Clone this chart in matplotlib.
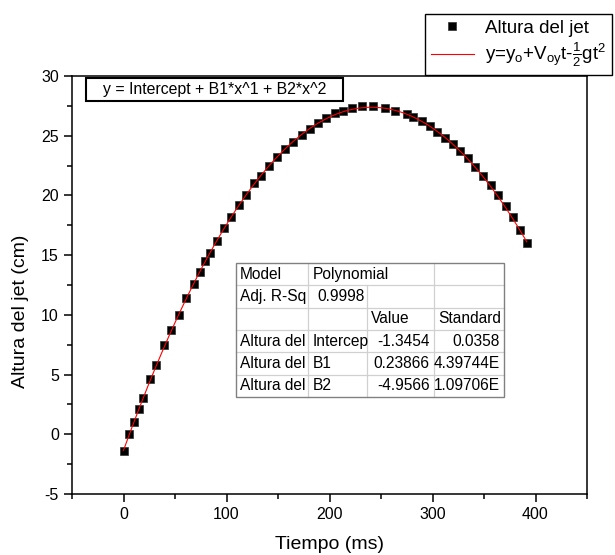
import matplotlib
matplotlib.use("Agg")
import matplotlib.pyplot as plt
from matplotlib.lines import Line2D
from matplotlib.patches import Rectangle
import numpy as np

plt.rcParams['font.family'] = ['Liberation Sans', 'DejaVu Sans']
plt.rcParams['mathtext.fontset'] = 'custom'
plt.rcParams['mathtext.rm'] = 'Liberation Sans'
plt.rcParams['mathtext.it'] = 'Liberation Sans'
plt.rcParams['mathtext.bf'] = 'Liberation Sans:bold'
plt.rcParams['axes.unicode_minus'] = False

# ---- data ----
tiempo_ms = [0, 5.5, 10, 15, 19, 26, 32, 39, 46, 53.5, 61, 68, 74, 79.5, 84, 90.5,
             98, 104.7, 112.4, 119, 127, 133.2, 141.3, 148.7, 156.8, 164.9, 173,
             181, 189, 196.3, 205.3, 213.4, 221.6, 231.3, 242, 253.9, 263.6, 275,
             281.4, 289.6, 297.6, 304.7, 312.1, 319.6, 326.7, 334.2, 341.3, 349.3,
             356.5, 363.9, 371.1, 377.9, 385, 391.5]
altura_cm = [-1.4, 0.0, 1.0, 2.1, 3.0, 4.6, 5.8, 7.5, 8.7, 10.0, 11.4, 12.6, 13.6,
             14.5, 15.2, 16.2, 17.3, 18.2, 19.2, 20.0, 21.0, 21.6, 22.5, 23.2, 23.9,
             24.5, 25.1, 25.6, 26.1, 26.5, 26.9, 27.1, 27.3, 27.45, 27.5, 27.3, 27.1,
             26.8, 26.6, 26.2, 25.8, 25.3, 24.8, 24.3, 23.7, 23.1, 22.4, 21.6, 20.9,
             20.0, 19.1, 18.2, 17.1, 16.0]
# fit coefficients (from the table)
intercept = -1.3454
b1 = 0.23866
b2 = -4.9566e-4

xticks = [0, 100, 200, 300, 400]
yticks = [-5, 0, 5, 10, 15, 20, 25, 30]

table_rows = [
    ["Model", "Polynomial", "", ""],
    ["Adj. R-Sq", "0.9998", "", ""],
    ["", "", "Value", "Standard"],
    ["Altura del", "Intercep", "-1.3454", "0.0358"],
    ["Altura del", "B1", "0.23866", "4.39744E"],
    ["Altura del", "B2", "-4.9566", "1.09706E"],
]

W, H = 615, 555
fig = plt.figure(figsize=(W / 100, H / 100), dpi=100)

def P(x, y):
    return (x / W, 1 - y / H)

ax = fig.add_axes([72 / W, 1 - 494 / H, (587 - 72) / W, (494 - 76) / H])

ax.plot(tiempo_ms, altura_cm, linestyle='none', marker='s', markersize=6.4,
        markerfacecolor='black', markeredgecolor='#303030', markeredgewidth=0.5,
        zorder=2, label='Altura del jet')
xf = np.linspace(min(tiempo_ms), max(tiempo_ms), 300)
yf = intercept + b1 * xf + b2 * xf ** 2
ax.plot(xf, yf, color='#ff0000', lw=0.8, zorder=3,
        label=r'y=y$_{o}$+V$_{oy}$t-$\frac{1}{2}$gt$^{2}$')

ax.set_xlim(-50, 450)
ax.set_ylim(-5, 30)
ax.set_xticks(xticks)
ax.set_yticks(yticks)
ax.set_xticks([-50, 50, 150, 250, 350, 450], minor=True)
ax.set_yticks([-2.5, 2.5, 7.5, 12.5, 17.5, 22.5, 27.5], minor=True)
ax.tick_params(which='both', direction='out', top=False, right=False,
               labelsize=11.5, width=1.1, color='black')
ax.tick_params(which='major', length=6)
ax.tick_params(which='minor', length=3.5)
for s in ax.spines.values():
    s.set_linewidth(1.1)
    s.set_color('black')

ax.set_xlabel('Tiempo (ms)', fontsize=14, labelpad=10)
fig.text(*P(21, 311), 'Altura del jet (cm)', fontsize=14, rotation=90,
         ha='center', va='center')

# legend
h, l = ax.get_legend_handles_labels()
leg = fig.legend(h, l, loc='upper right', bbox_to_anchor=P(612, 14),
                 borderaxespad=0, fancybox=False, edgecolor='black',
                 framealpha=1, fontsize=13.5, handlelength=2.3,
                 borderpad=0.3, labelspacing=0.25, handletextpad=0.6)
leg.get_frame().set_linewidth(1.0)

# equation box
x0, y0 = P(86, 101)
x1, y1 = P(343, 78)
fig.add_artist(Rectangle((x0, y0), x1 - x0, y1 - y0, transform=fig.transFigure,
                         facecolor='white', edgecolor='black', lw=1.5, zorder=5))
fig.text(*P(214.5, 89.5), 'y = Intercept + B1*x^1 + B2*x^2', fontsize=11.4,
         ha='center', va='center', zorder=6)

# statistics table
cols = [236, 308.3, 366.7, 434, 504]
top, bot = 263, 397
nrow = len(table_rows)
rh = (bot - top) / nrow
tx0, ty0 = P(cols[0], bot)
tx1, ty1 = P(cols[-1], top)
fig.add_artist(Rectangle((tx0, ty0), tx1 - tx0, ty1 - ty0, transform=fig.transFigure,
                         facecolor='white', edgecolor='none', zorder=5))
grid = '#d0d0d0'
for r in range(1, nrow):
    yy = top + r * rh
    fig.add_artist(Line2D([P(cols[0], yy)[0], P(cols[-1], yy)[0]],
                          [P(0, yy)[1]] * 2, transform=fig.transFigure,
                          color=grid, lw=0.9, zorder=6))
# vertical inner lines
for ci, start_row in [(1, 0), (2, 1), (3, 0)]:
    xx = cols[ci]
    fig.add_artist(Line2D([P(xx, 0)[0]] * 2,
                          [P(0, top + start_row * rh)[1], P(0, bot)[1]],
                          transform=fig.transFigure, color=grid, lw=0.9, zorder=6))
fig.add_artist(Rectangle((tx0, ty0), tx1 - tx0, ty1 - ty0, transform=fig.transFigure,
                         facecolor='none', edgecolor='#808080', lw=1.0, zorder=7))

for r, row in enumerate(table_rows):
    yc = top + (r + 0.5) * rh
    for c, txt in enumerate(row):
        if not txt:
            continue
        numeric = (r >= 3 and c >= 2)
        if numeric:
            xx = cols[c + 1] - 4.5
            ha = 'right'
        elif r == 1 and c == 1:
            xx = cols[c] + 9
            ha = 'left'
        else:
            xx = cols[c] + 4
            ha = 'left'
        fig.text(*P(xx, yc), txt, fontsize=11.2, ha=ha, va='center', zorder=8)

fig.savefig('out.png', dpi=100)
